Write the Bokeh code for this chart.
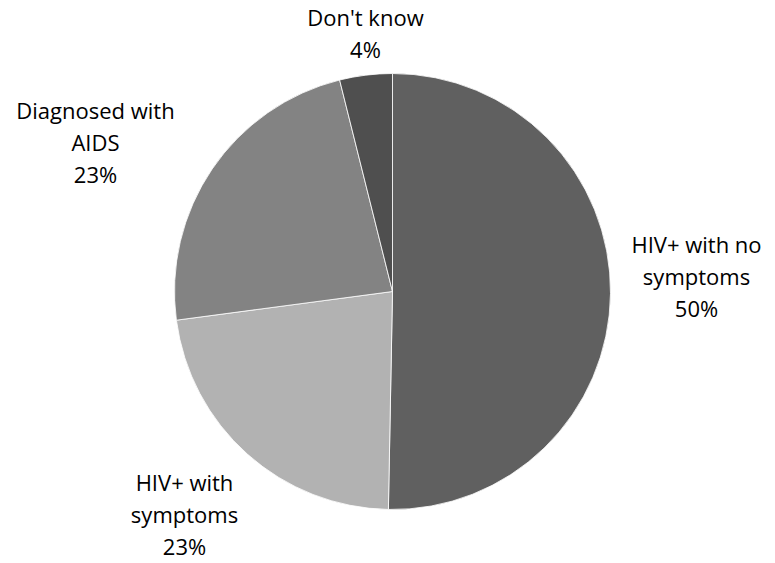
import numpy as np
from bokeh.plotting import figure
from bokeh.models import Range1d, ColumnDataSource
from bokeh.core.properties import value
from bokeh.embed import file_html
from bokeh.resources import INLINE

# Data (clockwise from 12 o'clock)
categories = ["HIV+ with no symptoms", "HIV+ with symptoms", "Diagnosed with AIDS", "Don't know"]
shares = [50.3, 22.6, 23.2, 3.9]
pct_labels = ["50%", "23%", "23%", "4%"]
label_lines = [["HIV+ with no", "symptoms"], ["HIV+ with", "symptoms"], ["Diagnosed with", "AIDS"], ["Don't know"]]
colors = ["#606060", "#b2b2b2", "#838383", "#4f4f4f"]

W, H = 775, 563
p = figure(width=W, height=H, output_backend="svg", toolbar_location=None,
           x_range=Range1d(0, W), y_range=Range1d(0, H),
           min_border=0)
p.axis.visible = False
p.grid.visible = False
p.outline_line_color = None
p.background_fill_color = "white"
p.border_fill_color = "white"

cx, cy, r = 392, H - 291, 218
vals = np.array(shares, dtype=float)
frac = vals / vals.sum()
cum = np.concatenate([[0.0], np.cumsum(frac)])
start = np.pi / 2 - cum[:-1] * 2 * np.pi
end = np.pi / 2 - cum[1:] * 2 * np.pi

src = ColumnDataSource(dict(start=start, end=end, color=colors, cat=categories))
p.wedge(x=cx, y=cy, radius=r, start_angle="start", end_angle="end", direction="clock",
        fill_color="color", line_color="white", line_width=0.8, source=src)

# Label anchors (center x, top line position) in page pixels
anchors = [(696, 243), (184, 481), (95, 109), (365, 16)]
lx, ly, lt = [], [], []
for (ax, ay), lines, pct in zip(anchors, label_lines, pct_labels):
    for i, t in enumerate(lines + [pct]):
        lx.append(ax)
        ly.append(H - (ay + 32.0 * i))
        lt.append(t)
p.text(x=lx, y=ly, text=lt, text_font=value("Open Sans"), text_font_size="22px",
       text_align="center", text_baseline="alphabetic", text_color="#000000")

open("out.html", "w").write(file_html(p, INLINE))
